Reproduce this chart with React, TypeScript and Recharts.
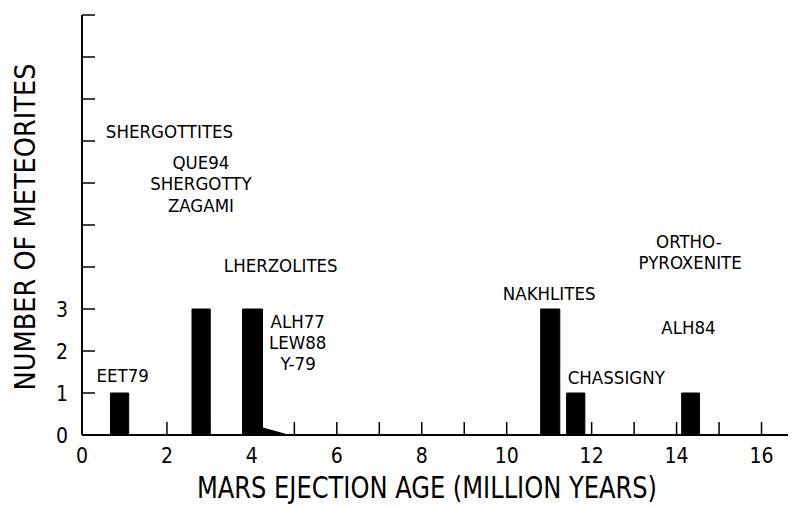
import React from "react";
import { ComposedChart, Area, Scatter, XAxis, YAxis } from "recharts";

// histogram bins (million years) and meteorite counts
const binStart = [0.67, 2.59, 3.78, 10.8, 11.41, 14.12];
const binEnd = [1.1, 3.02, 4.25, 11.25, 11.84, 14.54];
const counts = [1, 3, 3, 3, 1, 1];

// thin tail trailing the lherzolite bar
const tailAfter = 2;
const tailX = [4.25, 4.85];
const tailY = [0.17, 0];

const xTicks = [0, 1, 2, 3, 4, 5, 6, 7, 8, 9, 10, 11, 12, 13, 14, 15, 16, 17];
const yTicks = [0, 1, 2, 3, 4, 5, 6, 7, 8, 9, 10];

const noteText = [
  "SHERGOTTITES", "QUE94", "SHERGOTTY", "ZAGAMI", "LHERZOLITES",
  "ALH77", "LEW88", "Y-79", "EET79", "NAKHLITES", "CHASSIGNY",
  "ORTHO-", "PYROXENITE", "ALH84",
];
const noteX = [2.06, 2.8, 2.8, 2.8, 4.68, 5.08, 5.08, 5.09, 0.96, 11.0, 12.58, 14.29, 14.32, 14.28];
const noteY = [7.24, 6.5, 6.0, 5.46, 4.05, 2.71, 2.21, 1.7, 1.43, 3.38, 1.37, 4.62, 4.12, 2.56];

const outline: { x: number; y: number }[] = [{ x: 0, y: 0 }];
binStart.forEach((s, i) => {
  outline.push({ x: s, y: 0 }, { x: s, y: counts[i] }, { x: binEnd[i], y: counts[i] });
  if (i === tailAfter) {
    tailX.forEach((tx, j) => outline.push({ x: tx, y: tailY[j] }));
  } else {
    outline.push({ x: binEnd[i], y: 0 });
  }
});
outline.push({ x: 17, y: 0 });

const notes = noteText.map((label, i) => ({ x: noteX[i], y: noteY[i], label }));

const FONT = "'DejaVu Sans Condensed', 'Liberation Sans', sans-serif";
const W = 830;
const H = 499;
const LEFT = 74;
const TOP = 7;
const BOTTOM = 427;
const RIGHT = 796;

const BottomTick = (p: any) => {
  const v = p.payload.value;
  return (
    <g>
      <line x1={p.x} x2={p.x} y1={BOTTOM} y2={BOTTOM - 13} stroke="#000" strokeWidth={1.5} />
      {v % 2 === 0 && v <= 16 && (
        <text x={p.x} y={455} textAnchor="middle" fontSize={21} fontFamily={FONT} fill="#000">
          {v}
        </text>
      )}
    </g>
  );
};

const TopTick = (p: any) => (
  <line x1={p.x} x2={p.x} y1={TOP} y2={TOP + 15} stroke="#000" strokeWidth={1.5} />
);

const LeftTick = (p: any) => {
  const v = p.payload.value;
  return (
    <g>
      <line x1={LEFT} x2={LEFT + 13} y1={p.y} y2={p.y} stroke="#000" strokeWidth={1.5} />
      {v <= 3 && (
        <text x={60} y={p.y} dy="0.36em" textAnchor="end" fontSize={21} fontFamily={FONT} fill="#000">
          {v}
        </text>
      )}
    </g>
  );
};

const RightTick = (p: any) => (
  <line x1={RIGHT} x2={RIGHT - 13} y1={p.y} y2={p.y} stroke="#000" strokeWidth={1.5} />
);

const XTitle = () => (
  <text
    x={419}
    y={490}
    textAnchor="middle"
    fontSize={30}
    fontFamily={FONT}
    fill="#000"
    textLength={460}
    lengthAdjust="spacingAndGlyphs"
  >
    MARS EJECTION AGE (MILLION YEARS)
  </text>
);

const YTitle = () => (
  <text
    transform="translate(27,219) rotate(-90)"
    x={0}
    y={0}
    textAnchor="middle"
    fontSize={28}
    fontFamily={FONT}
    fill="#000"
    textLength={327}
    lengthAdjust="spacingAndGlyphs"
  >
    NUMBER OF METEORITES
  </text>
);

const NoteShape = (p: any) => (
  <text x={p.cx} y={p.cy} dy="0.36em" textAnchor="middle" fontSize={18.5} fontFamily={FONT} fill="#000">
    {p.payload.label}
  </text>
);

export default function App() {
  return (
    <div style={{ width: 788, height: H, overflow: "hidden", background: "#fff" }}>
      <ComposedChart width={W} height={H} data={outline} margin={{ top: TOP, right: W - RIGHT, bottom: 0, left: 0 }}>
        <XAxis
          xAxisId="b"
          dataKey="x"
          type="number"
          domain={[0, 17]}
          ticks={xTicks}
          interval={0}
          height={H - BOTTOM}
          axisLine={{ stroke: "#000", strokeWidth: 2 }}
          tickLine={false}
          tick={(p: any) => <BottomTick {...p} />}
          label={<XTitle />}
          allowDataOverflow
        />
        <XAxis
          xAxisId="t"
          orientation="top"
          dataKey="x"
          type="number"
          domain={[0, 17]}
          ticks={xTicks}
          interval={0}
          height={0}
          axisLine={{ stroke: "#000", strokeWidth: 2 }}
          tickLine={false}
          tick={(p: any) => <TopTick {...p} />}
          allowDataOverflow
        />
        <YAxis
          yAxisId="l"
          type="number"
          domain={[0, 10]}
          ticks={yTicks}
          interval={0}
          width={LEFT}
          axisLine={{ stroke: "#000", strokeWidth: 2 }}
          tickLine={false}
          tick={(p: any) => <LeftTick {...p} />}
          label={<YTitle />}
        />
        <YAxis
          yAxisId="r"
          orientation="right"
          type="number"
          domain={[0, 10]}
          ticks={yTicks}
          interval={0}
          width={0}
          axisLine={{ stroke: "#000", strokeWidth: 2 }}
          tickLine={false}
          tick={(p: any) => <RightTick {...p} />}
        />
        <Area
          xAxisId="b"
          yAxisId="l"
          type="linear"
          dataKey="y"
          stroke="#000"
          strokeWidth={1}
          fill="#000"
          fillOpacity={1}
          dot={false}
          activeDot={false}
          isAnimationActive={false}
        />
        <Scatter
          xAxisId="b"
          yAxisId="l"
          data={notes}
          dataKey="y"
          shape={(p: any) => <NoteShape {...p} />}
          isAnimationActive={false}
        />
      </ComposedChart>
    </div>
  );
}
